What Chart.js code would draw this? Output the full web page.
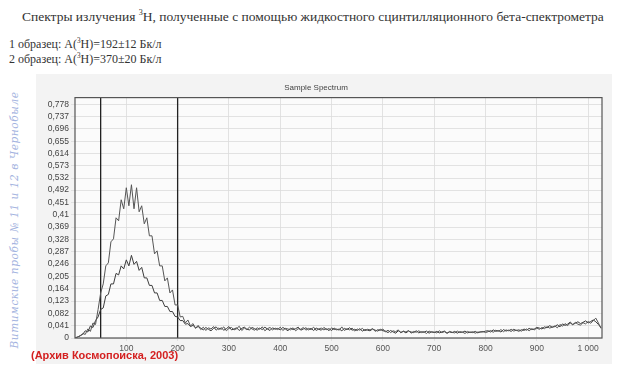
<!DOCTYPE html>
<html>
<head>
<meta charset="utf-8">
<script src="https://cdn.jsdelivr.net/npm/chart.js@4.4.1/dist/chart.umd.min.js"></script>
<style>
    body { margin: 0; width: 623px; height: 370px; background: #fff; position: relative; overflow: hidden; }
    .head { position: absolute; font-family: "Liberation Serif", serif; color: #333; white-space: nowrap; }
    .head sup { font-size: 0.6em; }
    #panel { position: absolute; left: 36px; top: 74px; width: 576px; height: 290px; background: #f3f3f3; }
    #box { position: absolute; left: 30px; top: 78px; width: 580px; height: 278px; }
    #hand { position: absolute; left: 14px; top: 220px; transform: translate(-50%, -50%) rotate(-90deg);
            font-family: "DejaVu Serif", serif; font-style: italic; font-size: 10.5px; color: #a3b3e0;
            white-space: nowrap; letter-spacing: 0.6px; }
    #archive { position: absolute; left: 31px; top: 349px; font-family: "Liberation Sans", Arial, sans-serif;
               font-weight: bold; font-size: 11px; color: #d42020; white-space: nowrap; }
</style>
</head>
<body>
<div class="head" style="left:22px; top:8px; font-size:13.5px;">Спектры излучения <sup>3</sup>H, полученные с помощью жидкостного сцинтилляционного бета-спектрометра</div>
<div class="head" style="left:9px; top:37px; font-size:12px;">1 образец: A(<sup>3</sup>H)=192±12 Бк/л</div>
<div class="head" style="left:9px; top:52px; font-size:12px;">2 образец: A(<sup>3</sup>H)=370±20 Бк/л</div>
<div id="panel"></div>
<div id="box"><canvas id="spectrum"></canvas></div>
<div id="hand">Витимские пробы № 11 и 12 в Чернобыле</div>
<div id="archive">(Архив Космопоиска, 2003)</div>
<script>
// каналы через каждые 5
const channelStep = 5;

// образец 1 (верхний пик)
const sample1 = [
    0, 0.004, 0.006, 0.015, 0.012, 0.03, 0.022, 0.05, 0.045, 0.095,
    0.15, 0.18, 0.24, 0.25, 0.32, 0.33, 0.4, 0.39, 0.46, 0.43,
    0.5, 0.44, 0.51, 0.43, 0.5, 0.42, 0.44, 0.38, 0.4, 0.34,
    0.34, 0.28, 0.29, 0.24, 0.24, 0.19, 0.2, 0.15, 0.16, 0.11,
    0.11, 0.07, 0.072, 0.05, 0.06, 0.04, 0.048, 0.032, 0.042,
    0.028, 0.036, 0.025, 0.034, 0.03, 0.038, 0.026, 0.033, 0.029, 0.037,
    0.024, 0.032, 0.035, 0.027, 0.031, 0.039, 0.025, 0.033, 0.028, 0.036,
    0.03, 0.026, 0.034, 0.029, 0.037, 0.024, 0.031, 0.035, 0.027, 0.033,
    0.028, 0.036, 0.025, 0.032, 0.03, 0.027, 0.034, 0.024, 0.031, 0.029,
    0.035, 0.026, 0.032, 0.028, 0.036, 0.025, 0.03, 0.033, 0.027, 0.031,
    0.024, 0.034, 0.028, 0.03, 0.026, 0.037, 0.025, 0.031, 0.027, 0.033,
    0.023, 0.03, 0.026, 0.032, 0.024, 0.029, 0.027, 0.031, 0.022, 0.028,
    0.025, 0.03,
    0.02, 0.026, 0.018, 0.024, 0.021, 0.027, 0.017, 0.023, 0.02, 0.025,
    0.016, 0.022, 0.019, 0.024, 0.018, 0.021, 0.015, 0.023, 0.019, 0.02,
    0.017, 0.024, 0.018, 0.021, 0.016, 0.022, 0.019, 0.017, 0.023, 0.018,
    0.02, 0.015, 0.022, 0.018, 0.021, 0.016, 0.02, 0.019, 0.022, 0.018,
    0.021, 0.025, 0.019, 0.026, 0.022, 0.028, 0.021, 0.027, 0.024, 0.029,
    0.023, 0.026, 0.022, 0.028, 0.025, 0.03, 0.024, 0.031, 0.027, 0.033,
    0.029, 0.035, 0.031, 0.038, 0.033, 0.036, 0.04, 0.034, 0.045, 0.039,
    0.048, 0.041, 0.05, 0.044, 0.052, 0.046, 0.043, 0.051, 0.047, 0.055,
    0.049, 0.058, 0.066, 0.05, 0.032
];

// образец 2 (нижний пик)
const sample2 = [
    0, 0.003, 0.008, 0.012, 0.024, 0.02, 0.04, 0.035, 0.058, 0.07,
    0.095, 0.1, 0.14, 0.145, 0.18, 0.18, 0.215, 0.21, 0.24, 0.23,
    0.26, 0.24, 0.275, 0.245, 0.255, 0.225, 0.235, 0.2, 0.2, 0.175,
    0.175, 0.15, 0.15, 0.125, 0.125, 0.105, 0.105, 0.088, 0.088, 0.072,
    0.07, 0.058, 0.058, 0.046, 0.048, 0.038, 0.042, 0.034, 0.038,
    0.033, 0.027, 0.035, 0.029, 0.024, 0.032, 0.037, 0.028, 0.034, 0.026,
    0.031, 0.038, 0.027, 0.03, 0.034, 0.025, 0.032, 0.036, 0.029, 0.027,
    0.035, 0.031, 0.026, 0.033, 0.028, 0.036, 0.03, 0.025, 0.034, 0.029,
    0.032, 0.027, 0.035, 0.03, 0.024, 0.033, 0.028, 0.031, 0.036, 0.026,
    0.03, 0.034, 0.027, 0.032, 0.025, 0.033, 0.029, 0.026, 0.035, 0.028,
    0.031, 0.025, 0.033, 0.027, 0.03, 0.024, 0.032, 0.028, 0.034, 0.026,
    0.029, 0.025, 0.031, 0.023, 0.028, 0.026, 0.024, 0.03, 0.026, 0.023,
    0.029, 0.024,
    0.023, 0.018, 0.025, 0.02, 0.016, 0.024, 0.019, 0.022, 0.017, 0.023,
    0.02, 0.018, 0.024, 0.017, 0.021, 0.019, 0.023, 0.016, 0.021, 0.018,
    0.022, 0.017, 0.02, 0.023, 0.016, 0.02, 0.018, 0.022, 0.016, 0.021,
    0.019, 0.023, 0.017, 0.02, 0.018, 0.022, 0.017, 0.021, 0.02, 0.023,
    0.024, 0.02, 0.027, 0.022, 0.025, 0.02, 0.028, 0.023, 0.026, 0.022,
    0.029, 0.025, 0.027, 0.023, 0.03, 0.026, 0.032, 0.028, 0.03, 0.035,
    0.033, 0.03, 0.037, 0.034, 0.041, 0.036, 0.038, 0.044, 0.037, 0.047,
    0.042, 0.046, 0.053, 0.045, 0.049, 0.054, 0.048, 0.052, 0.057, 0.05,
    0.055, 0.06, 0.054, 0.045, 0.035
];

// границы окна (вертикальные линии)
const windowMarks = [50, 200];

const yTickLabels = ['0', '0,041', '0,082', '0,123', '0,164', '0,205', '0,246', '0,287', '0,328', '0,369',
    '0,41', '0,451', '0,492', '0,532', '0,573', '0,614', '0,655', '0,696', '0,737', '0,778'];
const xTickValues = [100, 200, 300, 400, 500, 600, 700, 800, 900, 1000];
const xTickLabels = ['100', '200', '300', '400', '500', '600', '700', '800', '900', '1 000'];

function toPoints(arr) {
    return arr.map(function (v, i) { return { x: i * channelStep, y: v }; });
}

var datasets = [
    { data: toPoints(sample1), borderColor: '#555', borderWidth: 1, pointRadius: 0, tension: 0 },
    { data: toPoints(sample2), borderColor: '#3c3c3c', borderWidth: 1, pointRadius: 0, tension: 0 }
];
windowMarks.forEach(function (ch) {
    datasets.push({ data: [{ x: ch, y: 0 }, { x: ch, y: 0.8 }], borderColor: '#222', borderWidth: 1.3, pointRadius: 0 });
});

// рамка вокруг области графика
const frame = {
    id: 'frame',
    beforeDraw: function (chart) {
        var a = chart.chartArea, c = chart.ctx;
        c.save();
        c.fillStyle = '#fbfbfb';
        c.fillRect(a.left, a.top, a.right - a.left, a.bottom - a.top);
        c.restore();
    },
    afterDraw: function (chart) {
        var a = chart.chartArea, c = chart.ctx;
        c.save();
        c.strokeStyle = '#555';
        c.lineWidth = 1.2;
        c.strokeRect(a.left, a.top, a.right - a.left, a.bottom - a.top);
        c.restore();
    }
};

var ctx = document.getElementById('spectrum').getContext('2d');
var myChart = new Chart(ctx, {
    type: 'line',
    data: { datasets: datasets },
    plugins: [frame],
    options: {
        responsive: true,
        maintainAspectRatio: false,
        animation: false,
        layout: { padding: { right: 8, left: 0, bottom: 0, top: 0 } },
        plugins: {
            legend: { display: false },
            tooltip: { enabled: false },
            title: {
                display: true,
                text: 'Sample Spectrum',
                color: '#444',
                font: { family: 'Liberation Sans', size: 8, weight: 'normal' },
                padding: { top: 5, bottom: 5 }
            }
        },
        scales: {
            x: {
                type: 'linear',
                min: 0,
                max: 1027,
                afterBuildTicks: function (axis) {
                    axis.ticks = xTickValues.map(function (v) { return { value: v }; });
                },
                afterFit: function (axis) { axis.height = 18; },
                ticks: {
                    autoSkip: false,
                    maxRotation: 0,
                    color: '#555',
                    font: { family: 'Liberation Sans', size: 8.5 },
                    padding: 3,
                    callback: function (v, i) { return xTickLabels[i]; }
                },
                grid: { color: '#dcdcdc', lineWidth: 0.8, tickLength: 3 },
                border: { display: false }
            },
            y: {
                min: 0,
                max: 0.8,
                afterBuildTicks: function (axis) {
                    axis.ticks = yTickLabels.map(function (l) { return { value: parseFloat(l.replace(',', '.')) }; });
                },
                afterFit: function (axis) { axis.width = 45; },
                ticks: {
                    autoSkip: false,
                    color: '#444',
                    font: { family: 'Liberation Sans', size: 8.5 },
                    padding: 2,
                    callback: function (v, i) { return yTickLabels[i]; }
                },
                grid: { color: '#dcdcdc', lineWidth: 0.8, tickLength: 4 },
                border: { display: false }
            }
        }
    }
});
</script>
</body>
</html>
